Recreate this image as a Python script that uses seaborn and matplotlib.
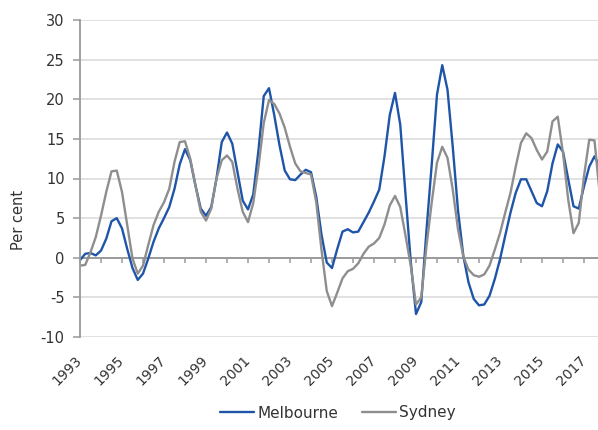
import numpy as np
import pandas as pd
import matplotlib
matplotlib.use("Agg")
import matplotlib.pyplot as plt
import seaborn as sns

# Quarterly data, 1993 Q1 .. 2017 Q4 (year fractions)
years = [1993 + i / 4 for i in range(100)]

melbourne = [
    -0.3, 0.5, 0.6, 0.3,
    0.9, 2.4, 4.6, 5.0,
    3.7, 1.1, -1.3, -2.8,
    -2.0, -0.1, 2.0, 3.7,
    5.0, 6.4, 8.7, 11.8,
    13.7, 12.3, 9.1, 6.2,
    5.3, 6.4, 10.0, 14.6,
    15.8, 14.4, 10.8, 7.2,
    6.1, 8.0, 13.6, 20.4,
    21.4, 18.0, 14.2, 11.0,
    9.9, 9.8, 10.5, 11.1,
    10.8, 7.7, 2.9, -0.6,
    -1.3, 1.1, 3.3, 3.6,
    3.2, 3.3, 4.5, 5.7,
    7.1, 8.6, 12.8, 18.0,
    20.8, 16.8, 8.0, -0.5,
    -7.1, -5.6, 3.5, 11.8,
    20.6, 24.3, 21.2, 14.0,
    6.0, 0.3, -3.1, -5.2,
    -6.0, -5.9, -4.8, -2.7,
    -0.2, 2.8, 5.7, 8.2,
    9.9, 9.9, 8.4, 6.9,
    6.5, 8.4, 11.9, 14.3,
    13.4, 9.9, 6.5, 6.2,
    9.0, 11.5, 12.8, 11.5,
]

sydney = [
    -1.0, -0.9, 0.7, 2.6,
    5.3, 8.3, 10.9, 11.0,
    8.3, 4.1, -0.1, -2.0,
    -1.0, 1.6, 4.1, 5.8,
    7.0, 8.7, 12.1, 14.6,
    14.7, 12.5, 9.1, 5.8,
    4.7, 6.2, 10.0, 12.3,
    12.9, 12.1, 8.7, 5.8,
    4.5, 6.9, 11.5, 17.0,
    19.9, 19.4, 18.2, 16.4,
    14.0, 11.9, 10.9, 10.7,
    10.5, 7.0, 1.0, -4.2,
    -6.1, -4.4, -2.6, -1.7,
    -1.4, -0.7, 0.5, 1.4,
    1.8, 2.5, 4.2, 6.6,
    7.8, 6.4, 2.8, -1.0,
    -5.9, -5.0, 1.5, 7.0,
    12.0, 14.0, 12.6, 8.6,
    3.6, 0.2, -1.5, -2.2,
    -2.4, -2.1, -1.0, 1.0,
    3.1, 5.7, 8.2, 11.5,
    14.5, 15.7, 15.1, 13.6,
    12.4, 13.4, 17.2, 17.8,
    13.2, 7.3, 3.1, 4.4,
    10.3, 14.9, 14.8, 8.0,
]

series_names = ["Melbourne", "Sydney"]
colors = {"Melbourne": "#1f55a8", "Sydney": "#8e8e8e"}
year_labels = list(range(1993, 2018, 2))
y_ticks = list(range(-10, 31, 5))

df = pd.DataFrame({
    "year": years * 2,
    "value": melbourne + sydney,
    "city": ["Melbourne"] * len(years) + ["Sydney"] * len(years),
})

sns.set_theme(style="white")
plt.rcParams["font.family"] = ["DejaVu Sans"]

fig = plt.figure(figsize=(5.98, 4.30), dpi=100)
ax = fig.add_axes([80 / 598, 93 / 430, 518 / 598, 317 / 430])

sns.lineplot(data=df, x="year", y="value", hue="city", hue_order=series_names,
             palette=colors, linewidth=1.7, ax=ax, legend=True)

ax.set_xlim(1993, 1993 + 518 / 21)
ax.set_ylim(-10, 30)

# horizontal gridlines
for v in y_ticks:
    if v != 0:
        ax.axhline(v, color="#d9d9d9", linewidth=1.1, zorder=0)

for s in ["top", "right"]:
    ax.spines[s].set_visible(False)
ax.spines["left"].set_color("#999999")
ax.spines["left"].set_linewidth(1.3)
ax.spines["bottom"].set_position(("data", 0))
ax.spines["bottom"].set_color("#9a9a9a")
ax.spines["bottom"].set_linewidth(1.4)
ax.spines["bottom"].set_zorder(0.5)

ax.set_yticks(y_ticks)
ax.set_yticklabels([str(v) for v in y_ticks])
ax.tick_params(axis="y", direction="out", length=5, width=1.1, color="#999999",
               labelsize=10.5, labelcolor="#333333", pad=6, left=True)

ax.set_xticks(year_labels)
ax.set_xticks(years[::4], minor=True)
ax.set_xticklabels([str(y) for y in year_labels], rotation=45, ha="right",
                   va="center", rotation_mode="anchor")
ax.tick_params(axis="x", which="both", direction="out", length=3.5, width=1.1,
               color="#9a9a9a", bottom=True)
ax.tick_params(axis="x", which="major", labelsize=10, labelcolor="#333333", pad=69)

ax.set_xlabel("")
ax.set_ylabel("Per cent", fontsize=10.5, color="#333333")
ax.yaxis.set_label_coords(-0.105, 0.37)

leg = ax.legend(loc="center", bbox_to_anchor=(338 / 598, 17 / 430),
                bbox_transform=fig.transFigure, ncol=2, frameon=False,
                fontsize=11, handlelength=2.2, handletextpad=0.2,
                columnspacing=1.6)
for t in leg.get_texts():
    t.set_color("#333333")

fig.savefig("out.png", dpi=100)
